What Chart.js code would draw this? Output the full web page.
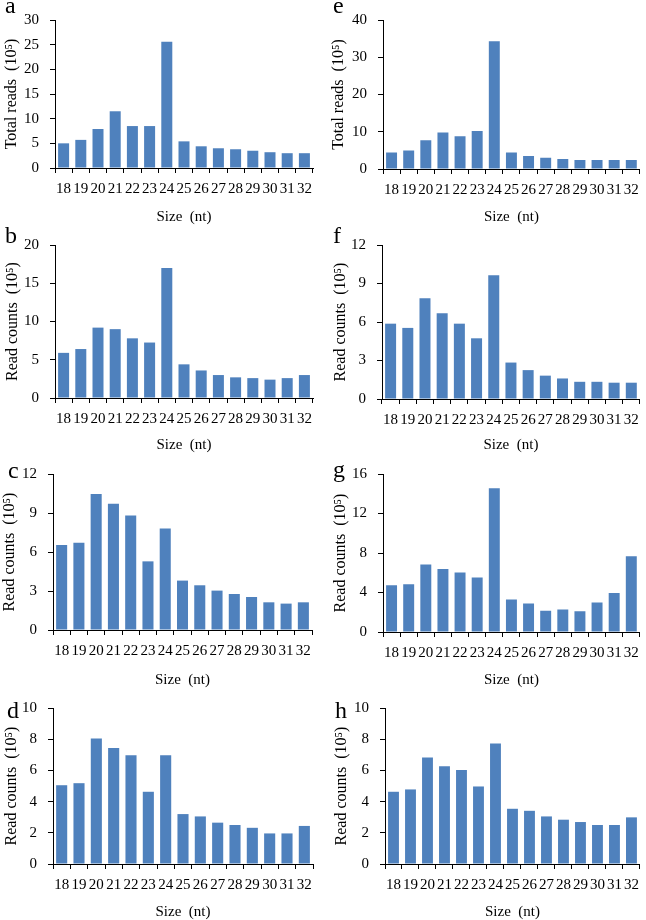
<!DOCTYPE html>
<html>
<head>
<meta charset="utf-8">
<script src="https://cdn.jsdelivr.net/npm/chart.js@4.4.1/dist/chart.umd.min.js"></script>
<style>
html, body { margin: 0; padding: 0; background: #fff; }
body { width: 646px; height: 920px; position: relative; overflow: hidden; }
canvas { position: absolute; }
</style>
</head>
<body>
<canvas id="pa"></canvas>
<canvas id="pe"></canvas>
<canvas id="pb"></canvas>
<canvas id="pf"></canvas>
<canvas id="pc"></canvas>
<canvas id="pg"></canvas>
<canvas id="pd"></canvas>
<canvas id="ph"></canvas>
<script>
// categorias: tamano de los sRNA (nt)
const sizes = ['18', '19', '20', '21', '22', '23', '24', '25', '26', '27', '28', '29', '30', '31', '32'];

// valores (x 10^5)
const totalReadsA = [5.0, 5.7, 7.9, 11.5, 8.5, 8.5, 25.6, 5.4, 4.4, 4.0, 3.8, 3.5, 3.2, 3.0, 3.0];
const totalReadsE = [4.4, 5.0, 7.7, 9.8, 8.8, 10.2, 34.3, 4.4, 3.5, 3.0, 2.7, 2.4, 2.4, 2.4, 2.4];
const readCountsB = [5.9, 6.4, 9.2, 9.0, 7.8, 7.25, 17.0, 4.4, 3.6, 3.0, 2.7, 2.6, 2.4, 2.6, 3.0];
const readCountsF = [5.87, 5.54, 7.85, 6.68, 5.87, 4.73, 9.65, 2.84, 2.25, 1.82, 1.6, 1.34, 1.34, 1.27, 1.27];
const readCountsC = [6.54, 6.72, 10.46, 9.72, 8.8, 5.28, 7.8, 3.8, 3.44, 3.03, 2.77, 2.54, 2.13, 2.03, 2.13];
const readCountsG = [4.74, 4.84, 6.83, 6.39, 6.02, 5.51, 14.55, 3.28, 2.88, 2.16, 2.27, 2.1, 2.98, 3.96, 7.68];
const readCountsD = [5.05, 5.18, 8.04, 7.43, 6.97, 4.63, 6.97, 3.2, 3.05, 2.65, 2.5, 2.32, 1.96, 1.96, 2.44];
const readCountsH = [4.63, 4.78, 6.82, 6.27, 6.02, 4.97, 7.73, 3.54, 3.41, 3.05, 2.84, 2.69, 2.5, 2.5, 2.99];

// marcas del eje Y
const ticksA = [0, 5, 10, 15, 20, 25, 30];
const ticksE = [0, 10, 20, 30, 40];
const ticksB = [0, 5, 10, 15, 20];
const ticksF = [0, 3, 6, 9, 12];
const ticksC = [0, 3, 6, 9, 12];
const ticksG = [0, 4, 8, 12, 16];
const ticksD = [0, 2, 4, 6, 8, 10];
const ticksH = [0, 2, 4, 6, 8, 10];

const yTitleTotal = 'Total reads  (10\u2075)';
const yTitleCounts = 'Read counts  (10\u2075)';
const xTitle = 'Size  (nt)';

const serif = '"Liberation Serif", "Times New Roman", serif';
const barColor = '#4F81BD';

// box: canvas [x, y, w, h] en la pagina; area: [izq, arriba, der, abajo] del area de barras
const panels = [
    { id: 'pa', letter: 'a', values: totalReadsA, ticks: ticksA, yTitle: yTitleTotal, box: [0, 0, 323, 225], area: [55, 10, 313, 168], letterAt: [5, 13], yPad: 2 },
    { id: 'pe', letter: 'e', values: totalReadsE, ticks: ticksE, yTitle: yTitleTotal, box: [323, 0, 323, 225], area: [383, 12, 640, 169], letterAt: [10, 13], yPad: 6 },
    { id: 'pb', letter: 'b', values: readCountsB, ticks: ticksB, yTitle: yTitleCounts, box: [0, 225, 323, 228], area: [55, 241, 313, 398], letterAt: [5, 18], yPad: 3 },
    { id: 'pf', letter: 'f', values: readCountsF, ticks: ticksF, yTitle: yTitleCounts, box: [323, 225, 323, 228], area: [382, 241, 640, 399], letterAt: [10, 18], yPad: 8 },
    { id: 'pc', letter: 'c', values: readCountsC, ticks: ticksC, yTitle: yTitleCounts, box: [0, 453, 323, 235], area: [53, 474, 312, 630], letterAt: [8, 25], yPad: 0 },
    { id: 'pg', letter: 'g', values: readCountsG, ticks: ticksG, yTitle: yTitleCounts, box: [323, 453, 323, 235], area: [383, 474, 640, 632], letterAt: [10, 24], yPad: 8 },
    { id: 'pd', letter: 'd', values: readCountsD, ticks: ticksD, yTitle: yTitleCounts, box: [0, 688, 323, 232], area: [53, 706, 313, 864], letterAt: [7, 30], yPad: 2 },
    { id: 'ph', letter: 'h', values: readCountsH, ticks: ticksH, yTitle: yTitleCounts, box: [323, 688, 323, 232], area: [385, 706, 645, 864], letterAt: [12, 30], yPad: 9 }
];

function makeChart(p) {
    const [bx, by, bw, bh] = p.box;
    const [l, t, r, b] = p.area;
    const cv = document.getElementById(p.id);
    cv.width = bw;
    cv.height = bh;
    cv.style.left = bx + 'px';
    cv.style.top = by + 'px';

    // letra del panel
    const letterPlugin = {
        id: 'panelLetter',
        afterDraw(chart) {
            const ctx = chart.ctx;
            ctx.save();
            ctx.font = '24px ' + serif;
            ctx.fillStyle = '#000';
            ctx.textBaseline = 'alphabetic';
            ctx.fillText(p.letter, p.letterAt[0], p.letterAt[1]);
            ctx.restore();
        }
    };

    const step = p.ticks[1] - p.ticks[0];
    return new Chart(cv, {
        type: 'bar',
        data: {
            labels: sizes,
            datasets: [{
                data: p.values,
                backgroundColor: barColor,
                borderWidth: 0,
                barPercentage: 0.64,
                categoryPercentage: 1
            }]
        },
        options: {
            responsive: false,
            animation: false,
            layout: { padding: { left: 0, top: t - by, right: bx + bw - r, bottom: 0 } },
            plugins: { legend: { display: false }, tooltip: { enabled: false } },
            scales: {
                x: {
                    grid: { display: true, drawOnChartArea: false, drawTicks: true, tickLength: 5, color: '#000', offset: true },
                    border: { display: true, color: '#000', width: 1 },
                    ticks: { autoSkip: false, maxRotation: 0, minRotation: 0, padding: 7, color: '#000', font: { family: serif, size: 15 } },
                    title: { display: true, text: xTitle, color: '#000', font: { family: serif, size: 15 }, padding: { top: 0, bottom: -1 } },
                    afterFit(s) { s.height = by + bh - b; }
                },
                y: {
                    min: p.ticks[0],
                    max: p.ticks[p.ticks.length - 1],
                    grid: { display: true, drawOnChartArea: false, drawTicks: true, tickLength: 5, color: '#000' },
                    border: { display: true, color: '#000', width: 1 },
                    ticks: { stepSize: step, padding: 11, color: '#000', font: { family: serif, size: 15 } },
                    title: { display: true, text: p.yTitle, color: '#000', font: { family: serif, size: 16 }, padding: { top: p.yPad, bottom: 0 } },
                    afterFit(s) { s.width = l - bx; }
                }
            }
        },
        plugins: [letterPlugin]
    });
}

panels.forEach(makeChart);
</script>
</body>
</html>
